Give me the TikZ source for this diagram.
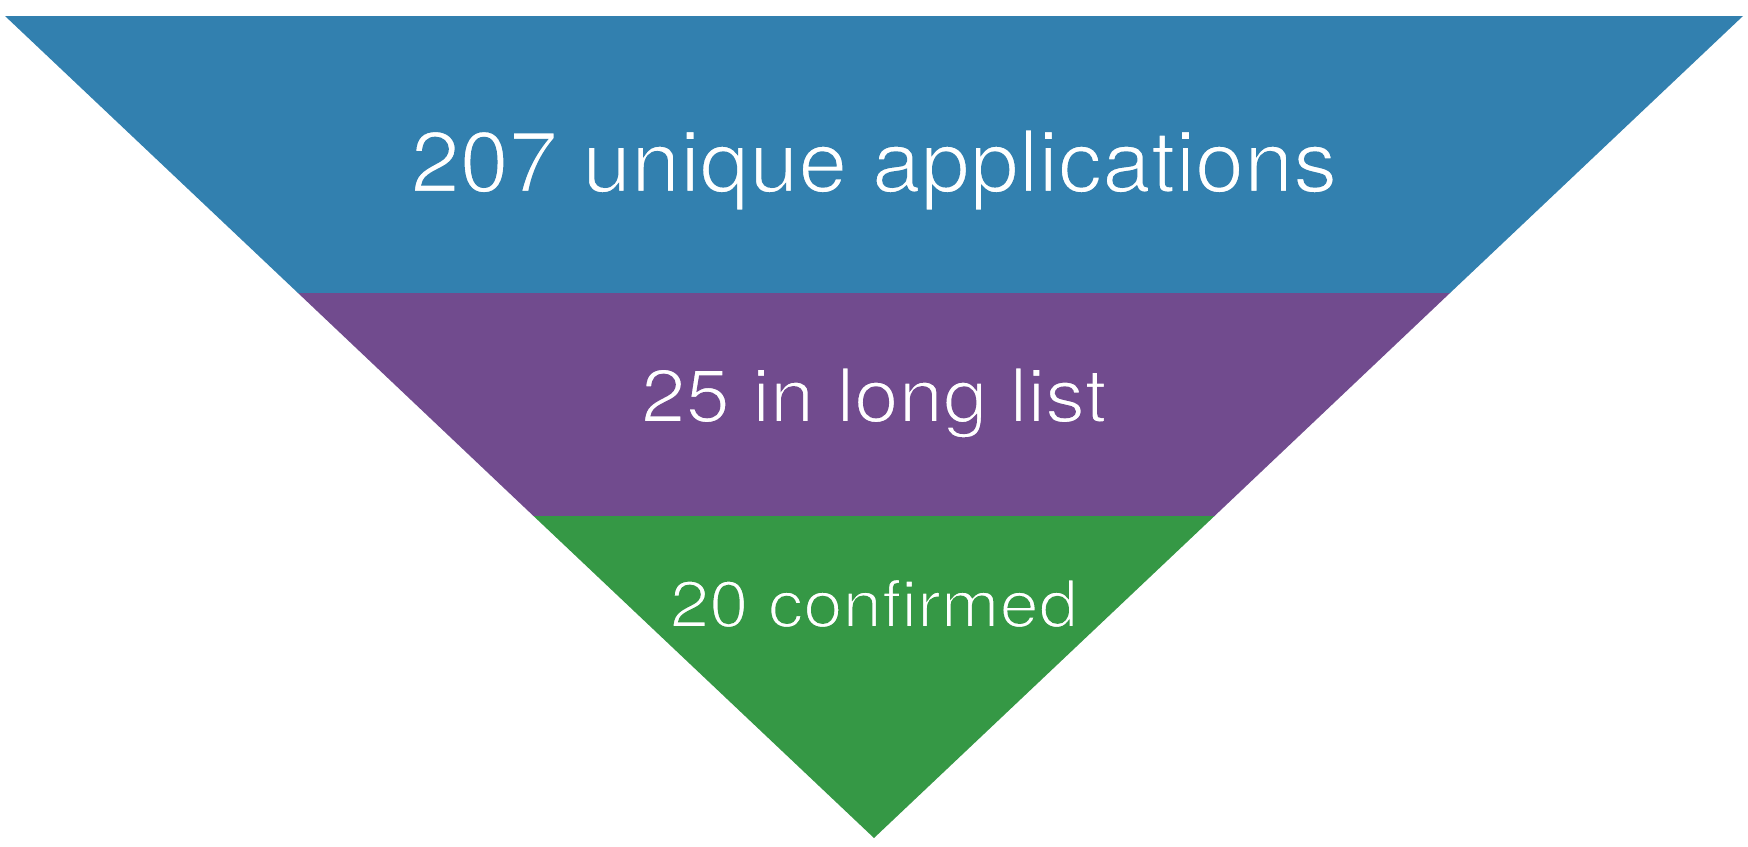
\documentclass[tikz,border=0pt]{standalone}
\usepackage{fontspec}
\setmainfont{TeX Gyre Heros}
\definecolor{bandblue}{RGB}{50,128,175}
\definecolor{bandpurple}{RGB}{113,75,142}
\definecolor{bandgreen}{RGB}{53,152,69}
\newcommand{\thintext}[2]{\special{pdf:code 2 Tr 2.0 w #1 RG}#2\special{pdf:code 0 Tr}}
\begin{document}
\begin{tikzpicture}[x=1pt,y=-1pt,
  label/.style={text=white,inner sep=0pt,anchor=base}]
\useasboundingbox (0,0) rectangle (1748,846);
\coordinate (tl) at (5,16);
\coordinate (tr) at (1743,16);
\coordinate (ap) at (874,838);
\coordinate (l1) at (298,293);
\coordinate (r1) at (1450,293);
\coordinate (l2) at (533.5,516);
\coordinate (r2) at (1214.5,516);
\fill[bandblue] (tl) -- (tr) -- (r1) -- (l1) -- cycle;
\fill[bandpurple] (l1) -- (r1) -- (r2) -- (l2) -- cycle;
\fill[bandgreen] (l2) -- (r2) -- (ap) -- cycle;
\node[label,font=\fontsize{86}{90}\selectfont] (t1) at (874,192) {\scalebox{1.025}[1]{\thintext{0.196 0.502 0.686}{207 unique applications}}};
\node[label,font=\fontsize{75}{80}\selectfont] (t2) at (874,422) {\scalebox{1.065}[1]{\thintext{0.443 0.294 0.557}{25 in long list}}};
\node[label,font=\fontsize{65.5}{70}\selectfont] (t3) at (874,627) {\scalebox{1.078}[1]{\thintext{0.208 0.596 0.271}{20 confirmed}}};
\end{tikzpicture}
\end{document}
